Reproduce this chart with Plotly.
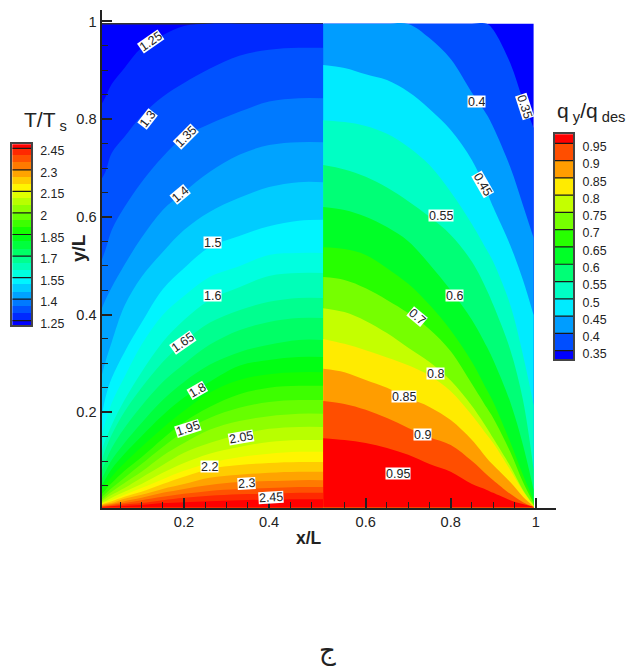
import plotly.graph_objects as go

# ---- Left panel: T/Ts contour curves, y position of each level at each x ----
T_x = [0.005, 0.015, 0.03, 0.06, 0.10, 0.15, 0.20, 0.26, 0.33, 0.40, 0.47, 0.527]
T_levels = [1.25, 1.30, 1.35, 1.40, 1.45, 1.50, 1.55, 1.60, 1.65, 1.70, 1.75, 1.80, 1.85,
            1.90, 1.95, 2.00, 2.05, 2.10, 2.15, 2.20, 2.25, 2.30, 2.35, 2.40, 2.45]
T_top = [.9955] * 12
T_curves = [
    [.829, .845, .872, .905, .946, .972, .991, .9955, .9955, .9955, .9955, .9955],
    [.676, .692, .731, .764, .807, .846, .874, .903, .930, .942, .946, .946],
    [.508, .532, .573, .620, .671, .723, .764, .790, .815, .836, .843, .843],
    [.409, .430, .456, .502, .557, .614, .651, .692, .727, .747, .753, .753],
    [.270, .303, .344, .418, .477, .528, .573, .610, .639, .661, .671, .671],
    [.184, .229, .270, .323, .383, .452, .495, .538, .561, .581, .592, .594],
    [.149, .180, .219, .272, .338, .399, .438, .477, .499, .522, .526, .526],
    [.119, .143, .174, .225, .282, .344, .389, .430, .456, .479, .485, .485],
    [.098, .123, .154, .201, .250, .303, .344, .383, .409, .426, .434, .434],
    [.078, .098, .127, .168, .213, .262, .299, .338, .368, .385, .393, .393],
    [.061, .078, .102, .137, .178, .225, .262, .297, .323, .338, .348, .348],
    [.049, .063, .084, .115, .151, .194, .230, .262, .295, .307, .313, .313],
    [.039, .051, .068, .096, .129, .168, .203, .240, .266, .278, .282, .282],
    [.031, .041, .055, .080, .108, .146, .180, .211, .237, .250, .254, .254],
    [.025, .033, .045, .066, .094, .129, .160, .188, .209, .221, .225, .225],
    [.020, .027, .037, .055, .078, .111, .137, .164, .182, .192, .197, .197],
    [.016, .023, .031, .045, .066, .092, .117, .137, .154, .166, .170, .170],
    [.014, .018, .025, .037, .053, .076, .096, .115, .129, .139, .143, .143],
    [.012, .016, .020, .031, .045, .063, .080, .096, .108, .115, .119, .119],
    [.010, .014, .018, .027, .037, .053, .068, .084, .092, .096, .098, .098],
    [.009, .012, .014, .023, .031, .043, .053, .066, .072, .076, .078, .078],
    [.008, .010, .012, .018, .025, .035, .043, .051, .057, .059, .061, .061],
    [.007, .008, .010, .014, .020, .027, .033, .039, .043, .045, .047, .047],
    [.006, .007, .008, .011, .014, .020, .025, .029, .032, .033, .035, .035],
    [.006, .006, .007, .008, .010, .014, .016, .018, .020, .021, .022, .022],
]

# ---- Right panel: qy/qdes contour curves ----
q_x = [0.5, 0.55, 0.6, 0.65, 0.7, 0.75, 0.8, 0.85, 0.885, 0.9, 0.94, 0.97, 0.995]
q_levels = [0.35, 0.40, 0.45, 0.50, 0.55, 0.60, 0.65, 0.70, 0.75, 0.80, 0.85, 0.90, 0.95]
q_top = [.9955] * 13
q_curves = [
    [.9955, .9955, .9955, .9955, .9955, .9955, .9955, .9955, .9955, .983, .915, .839, .782],
    [.9955, .9955, .9955, .9955, .995, .966, .923, .854, .809, .784, .702, .624, .557],
    [.911, .905, .892, .880, .856, .821, .778, .716, .651, .620, .542, .471, .399],
    [.798, .794, .786, .770, .743, .706, .651, .585, .532, .508, .420, .317, .215],
    [.706, .697, .682, .660, .632, .600, .563, .508, .450, .420, .328, .225, .082],
    [.620, .614, .600, .579, .550, .503, .450, .389, .334, .307, .221, .133, .041],
    [.538, .534, .522, .495, .463, .420, .368, .303, .246, .221, .139, .072, .020],
    [.477, .471, .454, .430, .403, .370, .325, .258, .209, .188, .119, .057, .014],
    [.413, .405, .387, .362, .332, .303, .265, .213, .168, .147, .090, .041, .010],
    [.350, .340, .327, .312, .296, .275, .243, .194, .154, .137, .082, .039, .008],
    [.289, .282, .266, .250, .229, .211, .184, .143, .106, .092, .057, .027, .007],
    [.223, .217, .205, .188, .168, .149, .133, .100, .072, .061, .033, .016, .006],
    [.147, .143, .137, .127, .113, .094, .078, .053, .041, .035, .020, .012, .006],
]

# ---- Labels written on the contours ----
T_label_text = ["1.25", "1.3", "1.35", "1.4", "1.5", "1.6", "1.65", "1.8", "1.95", "2.05", "2.2", "2.3", "2.45"]
T_label_x = [.122, .113, .205, .191, .268, .268, .198, .231, .209, .334, .261, .346, .405]
T_label_y = [.958, .800, .764, .645, .547, .440, .342, .244, .166, .149, .088, .055, .025]
T_label_angle = [-35, -52, -45, -40, 0, 0, -35, -30, -18, -10, 0, -3, -3]

q_label_text = ["0.35", "0.4", "0.45", "0.55", "0.6", "0.7", "0.8", "0.85", "0.9", "0.95"]
q_label_x = [.973, .860, .876, .777, .810, .721, .765, .690, .733, .676]
q_label_y = [.825, .837, .667, .602, .440, .397, .279, .233, .154, .074]
q_label_angle = [72, 0, 60, 0, 0, 40, 0, 0, 0, 0]

# ---- Legend ticks ----
T_ticks = [2.45, 2.30, 2.15, 2.00, 1.85, 1.70, 1.55, 1.40, 1.25]
T_tick_text = ["2.45", "2.3", "2.15", "2", "1.85", "1.7", "1.55", "1.4", "1.25"]
q_ticks = [0.95, 0.90, 0.85, 0.80, 0.75, 0.70, 0.65, 0.60, 0.55, 0.50, 0.45, 0.40, 0.35]
q_tick_text = ["0.95", "0.9", "0.85", "0.8", "0.75", "0.7", "0.65", "0.6", "0.55", "0.5", "0.45", "0.4", "0.35"]

W, H = 632, 668
FONT = "Liberation Sans"
INK = "#222222"


def rainbow(t):
    stops = [(0, 0, 255), (0, 255, 255), (0, 255, 0), (255, 255, 0), (255, 0, 0)]
    s = min(t, 0.99999) * 4
    i = int(s)
    f = s - i
    a, b = stops[i], stops[i + 1]
    return "rgb(%d,%d,%d)" % tuple(round(a[k] + (b[k] - a[k]) * f) for k in range(3))


def dom_x(a, b):
    return [a / W, b / W]


def dom_y(top, bottom):
    return [1 - bottom / H, 1 - top / H]


fig = go.Figure()


def add_panel(xs, top, curves, xa, ya):
    n = len(curves) + 1
    for i, ys in enumerate([top] + curves):
        fig.add_trace(go.Scatter(
            x=xs, y=ys, xaxis=xa, yaxis=ya, mode="lines", fill="tozeroy",
            fillcolor=rainbow(i / (n - 1)),
            line=dict(width=0 if i or xa != "x" else 1.5, shape="spline", smoothing=1.0,
                      color="#333333" if i == 0 and xa == "x" else rainbow(i / (n - 1))),
            showlegend=False, hoverinfo="skip"))


add_panel(T_x, T_top, T_curves, "x", "y")
add_panel(q_x, q_top, q_curves, "x2", "y2")


def add_key(levels, lines, xa, ya, lo):
    edges = [lo] + levels
    n = len(levels)
    fig.add_trace(go.Bar(
        x=[0.5] * (n + 1), width=[1] * (n + 1),
        base=edges,
        y=[(levels[i] - edges[i]) if i < n else 0.04 for i in range(n + 1)],
        marker=dict(color=[rainbow(i / n) for i in range(n + 1)], line=dict(width=0)),
        xaxis=xa, yaxis=ya, showlegend=False, hoverinfo="skip"))
    lx, ly = [], []
    for v in lines:
        lx += [0, 1, None]
        ly += [v, v, None]
    fig.add_trace(go.Scatter(x=lx, y=ly, mode="lines", line=dict(color="#1a1a1a", width=1.2),
                             xaxis=xa, yaxis=ya, showlegend=False, hoverinfo="skip"))


add_key(T_levels, T_ticks, "x3", "y3", 1.22)
add_key(q_levels, q_ticks, "x4", "y4", 0.325)

tick = dict(ticks="inside", ticklen=10, tickwidth=2, tickcolor=INK, showgrid=False, zeroline=False,
            showline=True, linecolor=INK, linewidth=2,
            tickfont=dict(family=FONT, size=14.6, color=INK))
minor_len = dict(ticks="inside", ticklen=6, tickwidth=1, tickcolor=INK, showgrid=False)

key_x = dict(range=[0, 1], showticklabels=False, ticks="", showgrid=False, zeroline=False,
             showline=True, mirror=True, linecolor="#444444", linewidth=1.5)
key_y = dict(side="right", tickmode="array", ticks="", showgrid=False, zeroline=False,
             showline=True, mirror=True, linecolor="#444444", linewidth=1.5, ticklabelstandoff=5,
             tickfont=dict(family=FONT, size=12.4, color=INK))

fig.update_layout(
    width=W, height=H, autosize=False, margin=dict(l=0, r=0, t=0, b=0, autoexpand=False),
    paper_bgcolor="white", plot_bgcolor="rgba(0,0,0,0)", barmode="overlay", bargap=0, showlegend=False,
    font=dict(family=FONT, color=INK),
    xaxis=dict(domain=dom_x(101.5, 323), range=[0.0059, 0.527], anchor="y", tickmode="array",
               tickvals=[0.2, 0.4], ticktext=["0.2", "0.4"],
               minor=dict(tickmode="array", tickvals=[.05, .1, .15, .25, .3, .35, .45, .5], **minor_len), **tick),
    yaxis=dict(domain=dom_y(10, 507.5), range=[0.005, 1.0235], anchor="x", tickmode="array",
               tickvals=[0.2, 0.4, 0.6, 0.8, 1], ticktext=["0.2", "0.4", "0.6", "0.8", "1"],
               minor=dict(tickmode="array", tickvals=[.05, .1, .15, .25, .3, .35, .45, .5, .55, .65, .7, .75, .85, .9, .95],
                          **minor_len), **tick),
    xaxis2=dict(domain=dom_x(323, 555.7), range=[0.4995, 1.047], anchor="y2", tickmode="array",
                tickvals=[0.6, 0.8, 1], ticktext=["0.6", "0.8", "1"],
                minor=dict(tickmode="array", tickvals=[.5, .55, .65, .7, .75, .85, .9, .95], **minor_len), **tick),
    yaxis2=dict(domain=dom_y(10, 507.5), range=[0.005, 1.0235], anchor="x2", visible=False),
    xaxis3=dict(domain=dom_x(12.3, 31), anchor="y3", **key_x),
    yaxis3=dict(domain=dom_y(144.3, 325), range=[1.22, 2.478], anchor="x3",
                tickvals=[v - 0.019 for v in T_ticks], ticktext=T_tick_text, **key_y),
    xaxis4=dict(domain=dom_x(554.5, 573.3), anchor="y4", **key_x),
    yaxis4=dict(domain=dom_y(134.3, 359.3), range=[0.325, 0.976], anchor="x4",
                tickvals=[v - 0.0098 for v in q_ticks], ticktext=q_tick_text, **key_y),
)

anns = []
for t, x, y, a in zip(T_label_text, T_label_x, T_label_y, T_label_angle):
    anns.append(dict(text=t, x=x, y=y, xref="x", yref="y", textangle=a, showarrow=False, bgcolor="white",
                     borderpad=0, height=11, font=dict(family=FONT, size=12.5, color=INK)))
for t, x, y, a in zip(q_label_text, q_label_x, q_label_y, q_label_angle):
    anns.append(dict(text=t, x=x, y=y, xref="x2", yref="y2", textangle=a, showarrow=False, bgcolor="white",
                     borderpad=0, height=11, font=dict(family=FONT, size=12.5, color=INK)))


def paper(text, px, py, size, bold=False, angle=0, family=FONT, xanchor="center"):
    anns.append(dict(text="<b>%s</b>" % text if bold else text, x=px / W, y=1 - py / H, xref="paper", yref="paper",
                     showarrow=False, textangle=angle, xanchor=xanchor, yanchor="middle",
                     font=dict(family=family, size=size, color=INK)))


paper("x/L", 309, 538, 17.5, bold=True)
paper("y/L", 78, 248, 19, bold=True, angle=-90)
paper("T/T<sub> s</sub>", 22, 121, 21, xanchor="left")
paper("q<sub> y</sub>/q<sub> des</sub>", 555, 112, 21, xanchor="left")
paper("ج", 327, 650, 26, family="DejaVu Sans")
fig.update_layout(annotations=anns)

fig.write_html("out.html", config={"displayModeBar": False},
               post_script="document.body.style.margin='0';document.documentElement.style.overflow='hidden';")
